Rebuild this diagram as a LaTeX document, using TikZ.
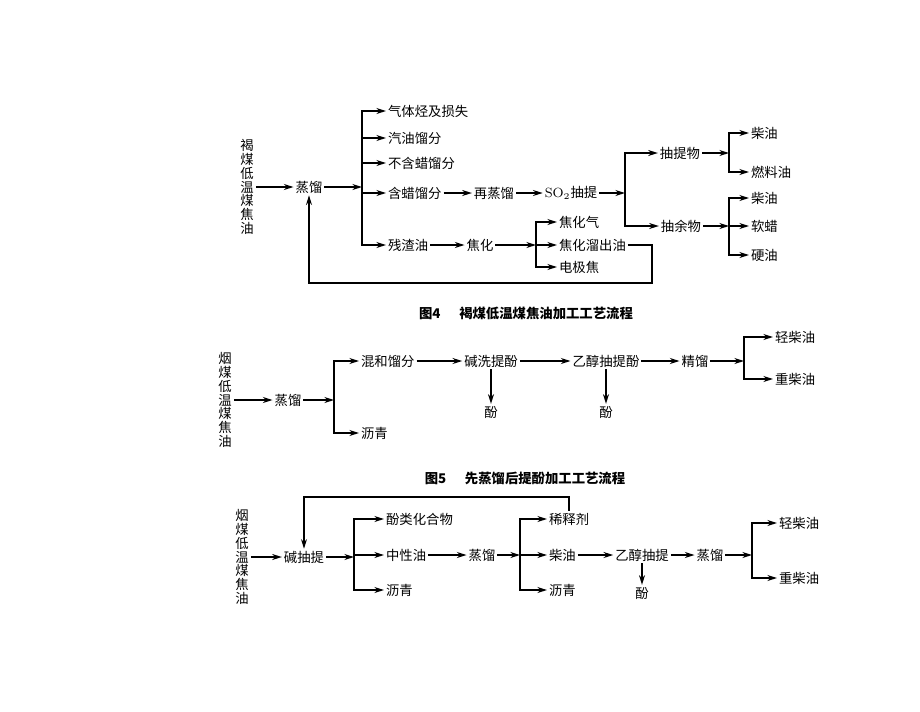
\documentclass[tikz,border=0pt]{standalone}
\usepackage{fontspec}
\newfontfamily\cjk{Noto Sans CJK SC}
\usetikzlibrary{arrows.meta}
\tikzset{
  flow/.style={-{Stealth[length=5.5pt,width=3.4pt]},line width=0.8pt},
  lbl/.style={inner sep=1pt,font=\cjk\fontsize{7.6pt}{7.8pt}\selectfont},
  vlbl/.style={lbl,align=center},
  captxt/.style={inner sep=1pt,font=\cjk\bfseries\fontsize{7.6pt}{8pt}\selectfont}
}
\begin{document}
\begin{tikzpicture}[x=0.02cm,y=-0.02cm]
\useasboundingbox (0,0) rectangle (920,711);
% figure 4
\node[vlbl] (hm) at (247,187) {褐\\煤\\低\\温\\煤\\焦\\油};
\node[lbl] (zl) at (309,187) {蒸馏};
\coordinate (j1) at (362,187);
\node[lbl,anchor=west] (q1) at (386,111) {气体烃及损失};
\node[lbl,anchor=west] (q2) at (386,138) {汽油馏分};
\node[lbl,anchor=west] (q3) at (386,163) {不含蜡馏分};
\node[lbl,anchor=west] (q4) at (386,193) {含蜡馏分};
\node[lbl,anchor=west] (q5) at (386,245) {残渣油};
\node[lbl] (zz) at (494,193) {再蒸馏};
\node[lbl] (so) at (571,193) {\textrm{SO}$_2$抽提};
\coordinate (j2) at (625,193);
\node[lbl] (ct) at (680,153) {抽提物};
\node[lbl] (cy) at (681,226) {抽余物};
\coordinate (j3) at (729,153);
\coordinate (j4) at (729,226);
\node[lbl,anchor=west] (c1) at (749,133) {柴油};
\node[lbl,anchor=west] (c2) at (749,172) {燃料油};
\node[lbl,anchor=west] (c3) at (749,198) {柴油};
\node[lbl,anchor=west] (c4) at (749,226) {软蜡};
\node[lbl,anchor=west] (c5) at (749,255) {硬油};
\node[lbl] (jh) at (480,245) {焦化};
\coordinate (j5) at (536,245);
\node[lbl,anchor=west] (k1) at (557,222) {焦化气};
\node[lbl,anchor=west] (k2) at (557,245) {焦化溜出油};
\node[lbl,anchor=west] (k3) at (557,267) {电极焦};
\coordinate (r1) at (652,283);
\draw[flow] (hm) -- (zl);
\draw[flow] (zl) -- (j1);
\draw[flow] (j1) |- (q1);
\draw[flow] (j1) |- (q2);
\draw[flow] (j1) |- (q3);
\draw[flow] (j1) |- (q4);
\draw[flow] (j1) |- (q5);
\draw[flow] (q4) -- (zz);
\draw[flow] (zz) -- (so);
\draw[flow] (so) -- (j2);
\draw[flow] (j2) |- (ct);
\draw[flow] (j2) |- (cy);
\draw[flow] (ct) -- (j3);
\draw[flow] (j3) |- (c1);
\draw[flow] (j3) |- (c2);
\draw[flow] (cy) -- (j4);
\draw[flow] (j4) |- (c3);
\draw[flow] (j4) -- (c4);
\draw[flow] (j4) |- (c5);
\draw[flow] (q5) -- (jh);
\draw[flow] (jh) -- (j5);
\draw[flow] (j5) |- (k1);
\draw[flow] (j5) -- (k2);
\draw[flow] (j5) |- (k3);
\draw[flow] (k2.east) -| (r1) -| (zl.south);
\node[captxt] (t4) at (526,313) {图4\hspace{1.4em}褐煤低温煤焦油加工工艺流程};
% figure 5
\node[vlbl] (ym5) at (225,400) {烟\\煤\\低\\温\\煤\\焦\\油};
\node[lbl] (zl5) at (288,400) {蒸馏};
\coordinate (j6) at (334,400);
\node[lbl,anchor=west] (h5) at (359,361) {混和馏分};
\node[lbl,anchor=west] (lq5) at (359,433) {沥青};
\node[lbl] (jx) at (491,361) {碱洗提酚};
\node[lbl] (f1) at (491,412) {酚};
\node[lbl] (yc) at (606,361) {乙醇抽提酚};
\node[lbl] (f2) at (606,412) {酚};
\node[lbl] (jl) at (695,361) {精馏};
\coordinate (j7) at (744,358);
\node[lbl,anchor=west] (g1) at (773,337) {轻柴油};
\node[lbl,anchor=west] (g2) at (773,379) {重柴油};
\draw[flow] (ym5) -- (zl5);
\draw[flow] (zl5) -- (j6);
\draw[flow] (j6) |- (h5);
\draw[flow] (j6) |- (lq5);
\draw[flow] (h5) -- (jx);
\draw[flow] (jx) -- (f1);
\draw[flow] (jx) -- (yc);
\draw[flow] (yc) -- (f2);
\draw[flow] (yc) -- (jl);
\draw[flow] (jl.east) -- (jl.east -| j7);
\draw[flow] (j7) |- (g1);
\draw[flow] (j7) |- (g2);
\node[captxt] (t5) at (525,478) {图5\hspace{1.4em}先蒸馏后提酚加工工艺流程};
% figure 6
\node[vlbl] (ym6) at (242,557) {烟\\煤\\低\\温\\煤\\焦\\油};
\node[lbl] (jt) at (304,557) {碱抽提};
\coordinate (j8) at (354,557);
\node[lbl,anchor=west] (p1) at (384,519) {酚类化合物};
\node[lbl,anchor=west] (p2) at (384,555) {中性油};
\node[lbl,anchor=west] (p3) at (384,590) {沥青};
\node[lbl] (zl6) at (482,555) {蒸馏};
\coordinate (j9) at (520,555);
\node[lbl,anchor=west] (s1) at (547,519) {稀释剂};
\node[lbl,anchor=west] (s2) at (547,555) {柴油};
\node[lbl,anchor=west] (s3) at (547,590) {沥青};
\node[lbl] (yt) at (642,555) {乙醇抽提};
\node[lbl] (f3) at (642,593) {酚};
\node[lbl] (zl7) at (710,555) {蒸馏};
\coordinate (j10) at (752,552);
\node[lbl,anchor=west] (g3) at (777,523) {轻柴油};
\node[lbl,anchor=west] (g4) at (777,578) {重柴油};
\coordinate (r2) at (304,497);
\draw[flow] (ym6) -- (jt);
\draw[flow] (jt) -- (j8);
\draw[flow] (j8) |- (p1);
\draw[flow] (j8) |- (p2);
\draw[flow] (j8) |- (p3);
\draw[flow] (p2) -- (zl6);
\draw[flow] (zl6) -- (j9);
\draw[flow] (j9) |- (s1);
\draw[flow] (j9) -- (s2);
\draw[flow] (j9) |- (s3);
\draw[flow] (s2) -- (yt);
\draw[flow] (yt) -- (f3);
\draw[flow] (yt) -- (zl7);
\draw[flow] (zl7.east) -- (zl7.east -| j10);
\draw[flow] (j10) |- (g3);
\draw[flow] (j10) |- (g4);
\draw[flow] (s1.north) |- (r2) -- (jt);
\end{tikzpicture}
\end{document}
